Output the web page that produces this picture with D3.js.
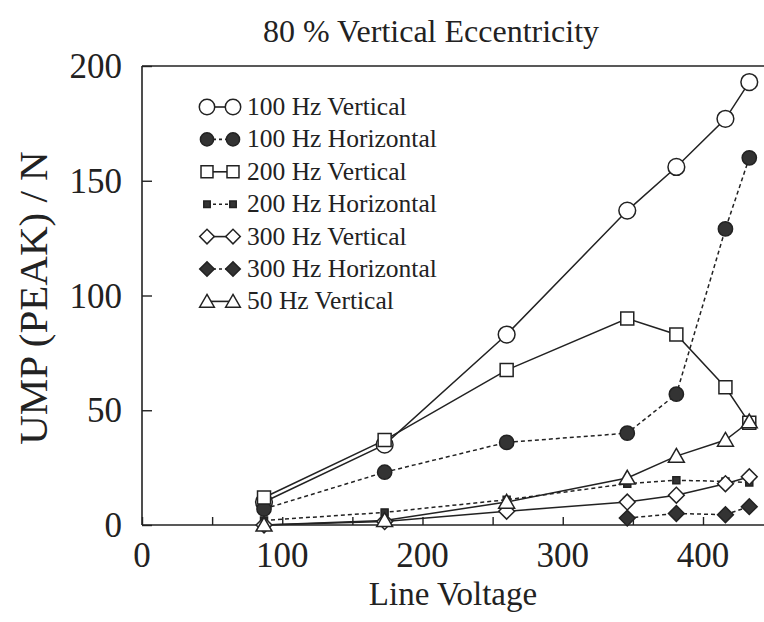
<!DOCTYPE html>
<html>
<head>
<meta charset="utf-8">
<script src="https://cdn.jsdelivr.net/npm/d3@7"></script>
<style>
  html, body { margin: 0; padding: 0; background: #fff; }
  svg { display: block; }
  text { font-family: "Liberation Serif", "Times New Roman", serif; fill: #222; }
</style>
</head>
<body>
<svg id="chart" width="764" height="622"></svg>
<script>
// ---- data ----
const voltages = [87, 173, 260, 346, 381, 416, 433];
const v100Vertical   = [10, 35, 83, 137, 156, 177, 193];
const v100Horizontal = [7, 23, 36, 40, 57, 129, 160];
const v200Vertical   = [12, 37, 67.5, 90, 83, 60, 44.5];
const v200Horizontal = [2, 5.5, 11, 18, 19.5, 19, 18.5];
const v300Vertical   = [0, 1.5, 6, 10, 13, 18, 21];
const v300Horizontal = [null, null, null, 3, 5, 4.5, 8];
const v50Vertical    = [0, 2, 10, 20.5, 30, 37, 45];
const seriesNames = ["100 Hz Vertical", "100 Hz Horizontal", "200 Hz Vertical", "200 Hz Horizontal",
                     "300 Hz Vertical", "300 Hz Horizontal", "50 Hz Vertical"];
const xTicks = [0, 100, 200, 300, 400];
const yTicks = [0, 50, 100, 150, 200];
const titleText = "80 % Vertical Eccentricity";
const xLabel = "Line Voltage";
const yLabel = "UMP (PEAK) / N";

(function () {
// ---- styles per series ----
const ink = "#222";
const styles = [
  {values: v100Vertical,   shape: "circle",   size: 220, fill: "#fff", dash: null},
  {values: v100Horizontal, shape: "circle",   size: 160, fill: "#333", dash: "4,3"},
  {values: v200Vertical,   shape: "square",   size: 169, fill: "#fff", dash: null},
  {values: v200Horizontal, shape: "square",   size: 49,  fill: "#333", dash: "4,3"},
  {values: v300Vertical,   shape: "diamond",  size: 125, fill: "#fff", dash: null},
  {values: v300Horizontal, shape: "diamond",  size: 125, fill: "#333", dash: "4,3"},
  {values: v50Vertical,    shape: "triangle", size: 110, fill: "#fff", dash: null}
];

const svg = d3.select("#chart");
const pLeft = 142, pBottom = 525, pTop = 66;
const x = d3.scaleLinear().domain([0, 450]).range([pLeft, pLeft + 450 * 1.4025]);
const y = d3.scaleLinear().domain([0, 200]).range([pBottom, pTop]);
const pRight = x(450);

function symbolPath(shape, size) {
  const t = {circle: d3.symbolCircle, square: d3.symbolSquare, diamond: d3.symbolSquare, triangle: d3.symbolTriangle}[shape];
  return d3.symbol().type(t).size(size)();
}
function symbolTransform(shape, px, py) {
  return shape === "diamond" ? `translate(${px},${py}) rotate(45)` :
         shape === "triangle" ? `translate(${px},${py + 1.5})` : `translate(${px},${py})`;
}

// ---- frame ----
svg.append("line").attr("x1", pLeft).attr("x2", pRight).attr("y1", pTop).attr("y2", pTop)
  .attr("stroke", ink).attr("stroke-width", 1.6);
svg.append("line").attr("x1", pRight).attr("x2", pRight).attr("y1", pTop).attr("y2", pBottom)
  .attr("stroke", ink).attr("stroke-width", 1.6);

const xAxis = d3.axisBottom(x).tickValues(d3.range(0, 451, 50)).tickSize(-8).tickFormat("");
const yAxis = d3.axisLeft(y).tickValues(d3.range(0, 201, 50)).tickSize(-10).tickFormat("");
const gx = svg.append("g").attr("transform", `translate(0,${pBottom})`).call(xAxis);
const gy = svg.append("g").attr("transform", `translate(${pLeft},0)`).call(yAxis);
[gx, gy].forEach(g => {
  g.selectAll("path.domain").attr("stroke", ink).attr("stroke-width", 1.6);
  g.selectAll(".tick line").attr("stroke", ink).attr("stroke-width", 1.4);
});
gx.select("path.domain").attr("d", `M${pLeft},0H${pRight}`);
gy.select("path.domain").attr("d", `M0,${pBottom}V${pTop}`);

// tick labels
svg.append("g").selectAll("text").data(xTicks).join("text")
  .attr("x", d => x(d)).attr("y", 567).attr("text-anchor", "middle")
  .attr("font-size", 35).text(d => d);
svg.append("g").selectAll("text").data(yTicks).join("text")
  .attr("x", 122).attr("y", d => y(d) + 12).attr("text-anchor", "end")
  .attr("font-size", 35).text(d => d);

// titles
svg.append("text").attr("x", 431).attr("y", 42).attr("text-anchor", "middle")
  .attr("font-size", 32).text(titleText);
svg.append("text").attr("x", 453).attr("y", 605).attr("text-anchor", "middle")
  .attr("font-size", 33).text(xLabel);
svg.append("text").attr("transform", "translate(47,298) rotate(-90)").attr("text-anchor", "middle")
  .attr("font-size", 41).text(yLabel);

// ---- series ----
const line = d3.line().x(d => x(d[0])).y(d => y(d[1]));
styles.forEach(s => {
  const pts = voltages.map((v, i) => [v, s.values[i]]).filter(d => d[1] != null);
  svg.append("path").datum(pts).attr("d", line).attr("fill", "none")
    .attr("stroke", ink).attr("stroke-width", 1.5)
    .attr("stroke-dasharray", s.dash);
});
styles.forEach(s => {
  const pts = voltages.map((v, i) => [v, s.values[i]]).filter(d => d[1] != null);
  svg.append("g").selectAll("path").data(pts).join("path")
    .attr("d", symbolPath(s.shape, s.size))
    .attr("transform", d => symbolTransform(s.shape, x(d[0]), y(d[1])))
    .attr("fill", s.fill).attr("stroke", ink).attr("stroke-width", 1.5);
});

// ---- legend ----
const lg = svg.append("g");
seriesNames.forEach((name, i) => {
  const s = styles[i];
  const cy = 107 + i * 32.4;
  lg.append("line").attr("x1", 207).attr("x2", 233).attr("y1", cy).attr("y2", cy)
    .attr("stroke", ink).attr("stroke-width", 1.6).attr("stroke-dasharray", s.dash ? "3,3" : null);
  [207, 233].forEach(px => {
    lg.append("path").attr("d", symbolPath(s.shape, s.size * 0.85))
      .attr("transform", symbolTransform(s.shape, px, cy))
      .attr("fill", s.fill).attr("stroke", ink).attr("stroke-width", 1.5);
  });
  lg.append("text").attr("x", 247).attr("y", cy + 8).attr("font-size", 25.5).text(name);
});
})();
</script>
</body>
</html>
